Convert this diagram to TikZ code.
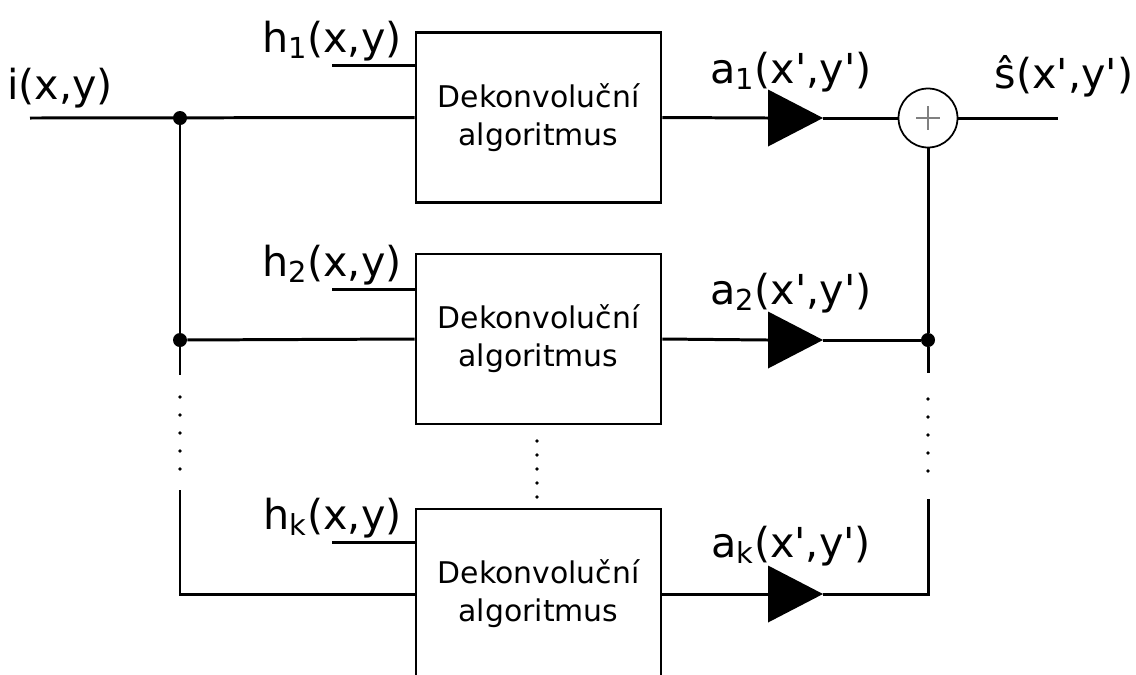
\documentclass[tikz,border=0pt]{standalone}
\usepackage{fontspec}
\setmainfont{DejaVu Sans}
\usepackage{tikz}
\usetikzlibrary{positioning, calc}

\newcommand{\prm}{\textquotesingle}

\tikzset{
  algbox/.style={draw, rectangle, line width=1.5pt, minimum width=4.9cm, minimum height=3.4cm,
    align=center, font=\fontsize{17}{21.5}\selectfont},
  sig/.style={font=\fontsize{23.5}{27}\selectfont, inner sep=0pt},
  wire/.style={line width=1.7pt},
  junc/.style={circle, fill, inner sep=0pt, minimum size=0.28cm},
  gap/.style={line width=2.2pt, line cap=round, dash pattern=on 0pt off #1},
  gap/.default=0.36cm,
  amp/.style={fill=black},
}

\begin{document}
\begin{tikzpicture}[x=0.02cm, y=-0.02cm]
    \useasboundingbox (0,0) rectangle (1136,674);

    % deconvolution blocks
    \node[algbox] (alg1) at (538.5,117.5) {Dekonvoluční\\algoritmus};
    \node[algbox] (alg2) at (538.5,339) {Dekonvoluční\\algoritmus};
    \node[algbox] (algk) at (538.5,594) {Dekonvoluční\\algoritmus};
    \draw[gap=0.28cm] (537,441) -- (537,498);

    % input and branching
    \coordinate (in) at (30,118);
    \node[junc] (j1) at (180,118) {};
    \node[junc] (j2) at (180,340) {};
    \coordinate (lgap1) at (180,375);
    \coordinate (lgap2) at (180,490);
    \coordinate (lk) at (180,594);
    \node[sig, anchor=base west] (ilab) at (7,99) {i(x,y)};
    \draw[wire] (in) -- (alg1.west);
    \draw[wire] (j1) -- (j2) -- (lgap1);
    \draw[wire] (j2) -- (alg2.west);
    \draw[gap] (180,397) -- (180,470);
    \draw[wire] (lgap2) -- (lk) -- (algk.west);

    % PSF inputs
    \coordinate (h1) at (332,65);
    \coordinate (h2) at (332,289);
    \coordinate (hk) at (332,542);
    \draw[wire] (h1) -- (h1 -| alg1.west);
    \draw[wire] (h2) -- (h2 -| alg2.west);
    \draw[wire] (hk) -- (hk -| algk.west);
    \node[sig, anchor=base east] (h1lab) at (402,52) {h\textsubscript{1}(x,y)};
    \node[sig, anchor=base east] (h2lab) at (402,276) {h\textsubscript{2}(x,y)};
    \node[sig, anchor=base east] (hklab) at (402,529) {h\textsubscript{k}(x,y)};

    % gains
    \coordinate (amp1) at (768,118);
    \coordinate (amp2) at (768,340);
    \coordinate (ampk) at (768,594);
    \coordinate (tip1) at (823,118);
    \coordinate (tip2) at (823,340);
    \coordinate (tipk) at (823,594);
    \fill[amp] (amp1) ++(0,-28.5) -- (tip1) -- ++(-55,28.5) -- cycle;
    \fill[amp] (amp2) ++(0,-28.5) -- (tip2) -- ++(-55,28.5) -- cycle;
    \fill[amp] (ampk) ++(0,-28.5) -- (tipk) -- ++(-55,28.5) -- cycle;
    \node[sig, anchor=base] (a1lab) at (791,83) {a\textsubscript{1}(x\prm,y\prm)};
    \node[sig, anchor=base] (a2lab) at (791,304) {a\textsubscript{2}(x\prm,y\prm)};
    \node[sig, anchor=base] (aklab) at (791,557) {a\textsubscript{k}(x\prm,y\prm)};
    \draw[wire] (alg1.east) -- (amp1);
    \draw[wire] (alg2.east) -- (amp2);
    \draw[wire] (algk.east) -- (ampk);

    % summation
    \node[circle, draw, line width=1pt, minimum size=1.18cm, inner sep=0pt] (sum) at (928,118) {};
    \draw[gray, line width=0.7pt] ($(sum)+(-12,0)$) -- ($(sum)+(12,0)$);
    \draw[gray, line width=0.7pt] ($(sum)+(0,-12)$) -- ($(sum)+(0,12)$);
    \node[junc] (j4) at (928,340) {};
    \coordinate (rgap1) at (928,373);
    \coordinate (rgap2) at (928,499);
    \coordinate (rk) at (928,594);
    \coordinate (out) at (1058,118);
    \draw[wire] (tip1) -- (sum.west);
    \draw[wire] (tip2) -- (j4);
    \draw[wire] (sum.south) -- (j4) -- (rgap1);
    \draw[gap] (928,399) -- (928,472);
    \draw[wire] (tipk) -- (rk) -- (rgap2);
    \draw[wire] (sum.east) -- (out);
    \node[sig, anchor=base] (slab) at (1064,88) {ŝ(x\prm,y\prm)};
\end{tikzpicture}
\end{document}
